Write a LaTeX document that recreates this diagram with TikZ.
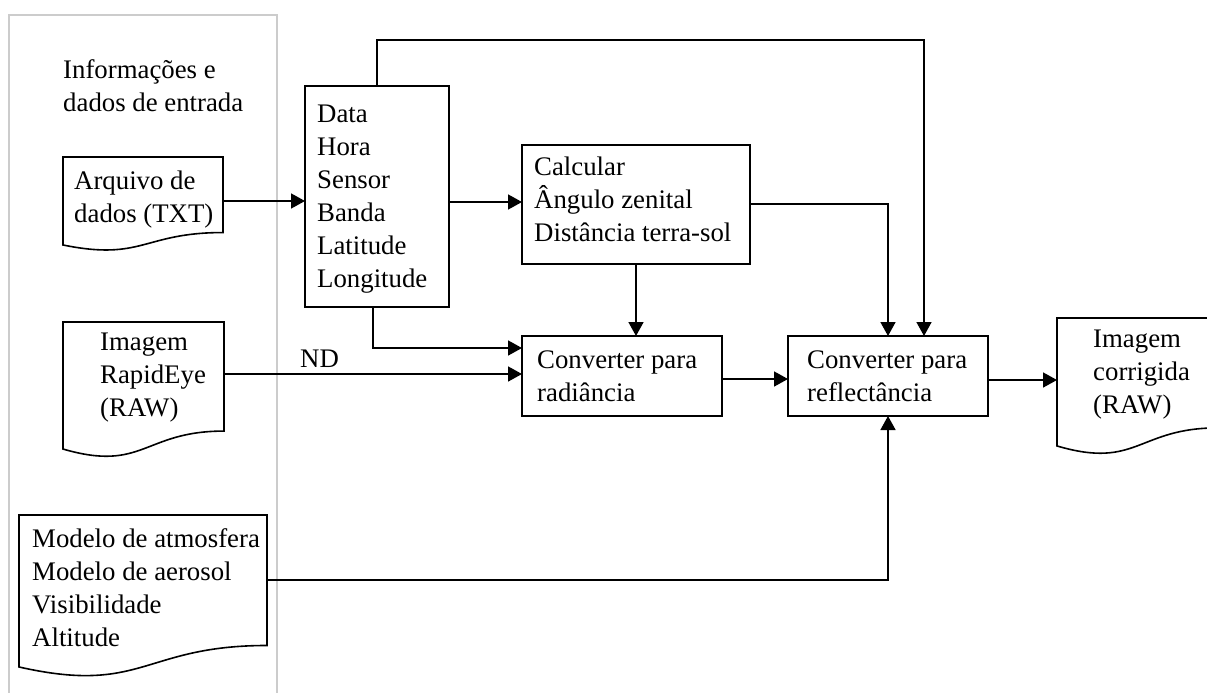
\documentclass[tikz,border=0pt]{standalone}
\usepackage{fontspec}
\setmainfont{Liberation Serif}
\usetikzlibrary{arrows.meta,calc}
\newcommand\DocOutline[1]{%
  \draw[line] (#1.north west) -- (#1.north east)
    -- ($(#1.north east)!0.802!(#1.south east)$)
    .. controls ($(#1.north)!0.802!(#1.south)$) and ($(#1.north)!1.107!(#1.south)$)
    .. ($(#1.north west)!0.934!(#1.south west)$) -- cycle;}
\begin{document}
\begin{tikzpicture}[x=1pt,y=-1pt,
  line/.style={line width=1.6pt, draw=black},
  arr/.style={line, -{Triangle[length=14pt,width=15pt]}},
  box/.style={line, rectangle, inner sep=0pt, outer sep=0pt, anchor=north west},
  ghost/.style={rectangle, inner sep=0pt, outer sep=0pt, anchor=north west},
  txt/.style={inner sep=0pt, anchor=north west, align=left, font=\fontsize{26.8}{33}\selectfont}]
\useasboundingbox (0,0) rectangle (1207,693);
% gray panel
\draw[draw=black!20, line width=2pt] (9,700) -- (9,15) -- (277,15) -- (277,700);
\node[txt] (info) at (63,54.9) {\strut Informações e\\dados de entrada};
% document shapes
\node[ghost, minimum width=160pt, minimum height=94.2pt] (arq) at (63,157) {};
\node[ghost, minimum width=161pt, minimum height=136pt] (rap) at (63,322) {};
\node[ghost, minimum width=248pt, minimum height=162.7pt] (mod) at (19,515) {};
\node[ghost, minimum width=161pt, minimum height=137pt] (cor) at (1057,318) {};
\DocOutline{arq}
\DocOutline{rap}
\DocOutline{mod}
\DocOutline{cor}
\node[txt] (tarq) at (74,165.9) {\strut Arquivo de\\dados (TXT)};
\node[txt] (trap) at (100,326.9) {\strut Imagem\\RapidEye\\(RAW)};
\node[txt] (tmod) at (32,523.9) {\strut Modelo de atmosfera\\Modelo de aerosol\\Visibilidade\\Altitude};
\node[txt] (tcor) at (1093,323.9) {\strut Imagem\\corrigida\\(RAW)};
% process boxes
\node[box, minimum width=144pt, minimum height=221pt] (data) at (305,86) {};
\node[box, minimum width=228pt, minimum height=119pt] (calc) at (522,145) {};
\node[box, minimum width=200pt, minimum height=80pt] (rad) at (522,336) {};
\node[box, minimum width=200pt, minimum height=80pt] (refl) at (788,336) {};
\node[txt] (tdata) at (317,98.9) {\strut Data\\Hora\\Sensor\\Banda\\Latitude\\Longitude};
\node[txt] (tcalc) at (534,151.9) {\strut Calcular\\Ângulo zenital\\Distância terra-sol};
\node[txt] (trad) at (537,344.9) {\strut Converter para\\radiância};
\node[txt] (trefl) at (807,344.9) {\strut Converter para\\reflectância};
\node[txt] (nd) at (300,343.9) {\strut ND};
% connectors
\draw[arr] (arq.east |- 0,201) -- (data.west |- 0,201);
\draw[arr] (data.east |- 0,202) -- (calc.west |- 0,202);
\draw[arr] (data.north -| 377,0) |- (924,40) -- (refl.north -| 924,0);
\draw[arr] (calc.east |- 0,204) -| (refl.north -| 888,0);
\draw[arr] (calc.south) -- (calc.south |- rad.north);
\draw[arr] (data.south -| 373,0) |- (rad.west |- 0,348);
\draw[arr] (rap.east |- 0,374) -- (rad.west |- 0,374);
\draw[arr] (rad.east |- 0,379) -- (refl.west |- 0,379);
\draw[arr] (refl.east |- 0,380) -- (cor.west |- 0,380);
\draw[arr] (mod.east |- 0,580) -| (refl.south -| 888,0);
\end{tikzpicture}
\end{document}
